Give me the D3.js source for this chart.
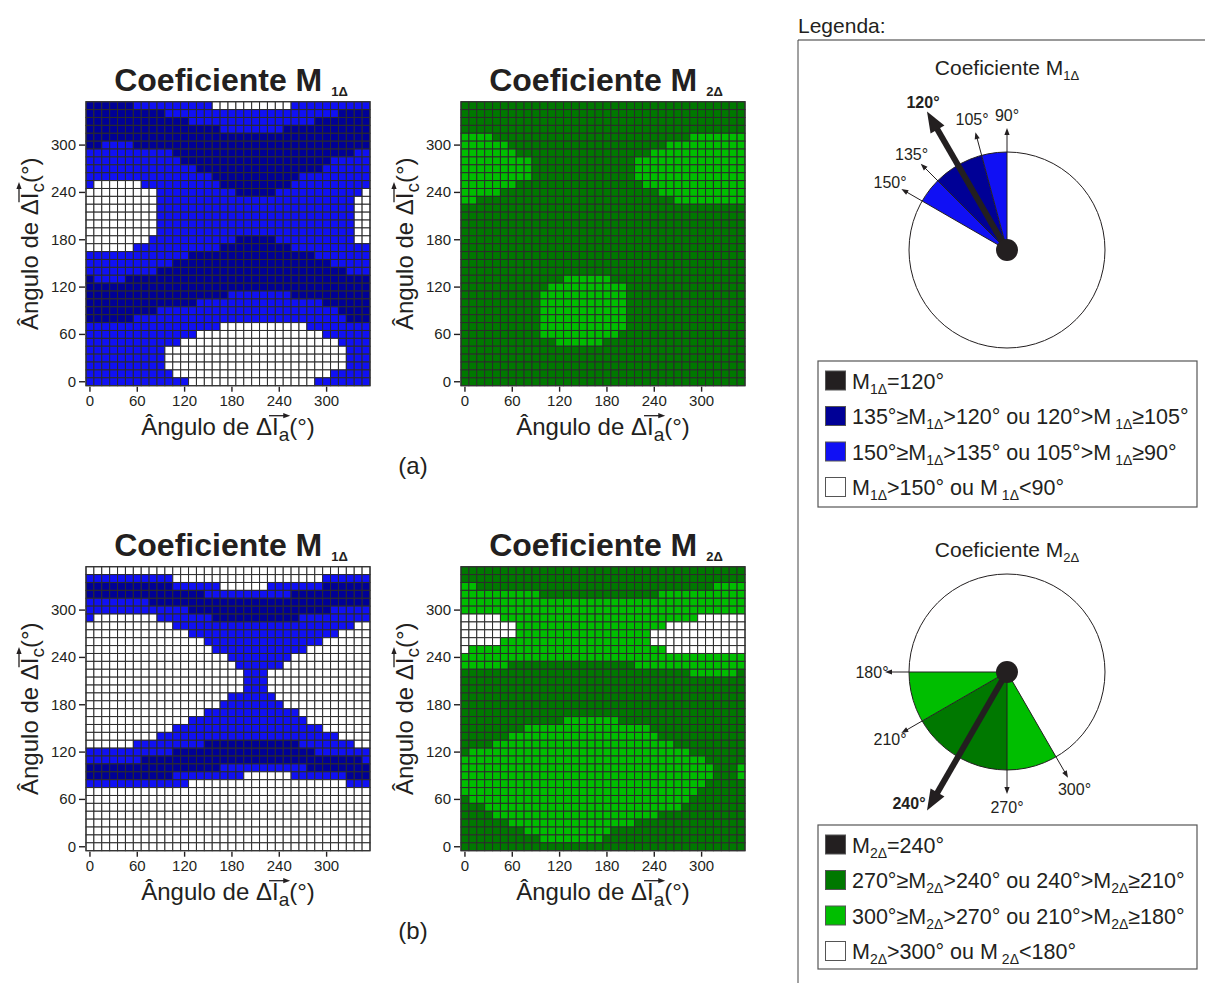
<!DOCTYPE html>
<html>
<head>
<meta charset="utf-8">
<script src="https://cdn.jsdelivr.net/npm/d3@7"></script>
<style>
  body { margin: 0; background: #fff; }
  svg { display: block; }
  text { font-family: "Liberation Sans", Arial, sans-serif; fill: #231f20; }
</style>
</head>
<body>
<svg id="chart" width="1205" height="983"></svg>
<script>
// Angle steps of the grid (degrees) and the ticks shown on both axes.
const angles = [0, 10, 20, 30, 40, 50, 60, 70, 80, 90, 100, 110, 120, 130, 140, 150, 160, 170,
  180, 190, 200, 210, 220, 230, 240, 250, 260, 270, 280, 290, 300, 310, 320, 330, 340, 350];
const tickValues = [0, 60, 120, 180, 240, 300];

// Class of each cell: 0 = outside range (white), 1 = outer band, 2 = inner band, 3 = exact.
// Rows go from the top (350°) to the bottom (0°), written as value*count runs.
const m1aRows = [
  '2*6 1*10 0*10 1*10', '2*10 1*22 2*4', '2*13 1*16 2*7', '2*17 1*8 2*11', '2*36',
  '2*2 1*4 2*30', '1*11 2*23 1*2', '1*12 2*19 1*5', '1*14 2*16 1*6', '1*16 2*11 1*9',
  '1*1 0*6 1*10 2*9 1*10', '0*9 1*10 2*5 1*11 0*1', '0*9 1*25 0*2', '0*9 1*25 0*2',
  '0*9 1*25 0*2', '0*9 1*25 0*2', '0*9 1*25 0*2', '0*8 1*11 2*5 1*10 0*2',
  '0*6 1*11 2*9 1*10', '1*13 2*16 1*7', '1*11 2*20 1*5', '1*9 2*24 1*3', '2*1 1*4 2*31',
  '2*36', '2*18 1*8 2*10', '2*14 1*16 2*6', '2*9 1*23 2*4', '2*6 1*27 2*3',
  '1*17 0*11 1*8', '1*14 0*16 1*6', '1*12 0*20 1*4', '1*10 0*23 1*3', '1*10 0*23 1*3',
  '1*10 0*23 1*3', '1*11 0*20 1*5', '1*13 0*16 1*7'
];
const m2aRows = [
  '2*36', '2*36', '2*36', '2*36', '1*4 2*25 1*7', '1*6 2*20 1*10', '1*7 2*17 1*12',
  '1*9 2*13 1*14', '1*9 2*13 1*14', '1*9 2*13 1*14', '1*7 2*16 1*13', '1*5 2*20 1*11',
  '1*2 2*25 1*9', '2*36', '2*36', '2*36', '2*36', '2*36', '2*36', '2*36', '2*36', '2*36',
  '2*13 1*6 2*17', '2*11 1*10 2*15', '2*10 1*11 2*15', '2*10 1*11 2*15', '2*10 1*11 2*15',
  '2*10 1*11 2*15', '2*10 1*11 2*15', '2*10 1*10 2*16', '2*12 1*6 2*18',
  '2*36', '2*36', '2*36', '2*36', '2*36'
];
const m1bRows = [
  '0*36', '1*11 0*19 1*6', '2*11 1*6 0*6 1*7 2*6', '2*15 1*11 2*10', '1*8 2*28',
  '1*13 2*18 1*5', '1*1 0*8 1*7 2*11 1*9', '0*11 1*23 0*2', '0*13 1*19 0*4',
  '0*15 1*15 0*6', '0*16 1*12 0*8', '0*18 1*8 0*10', '0*19 1*6 0*11', '0*20 1*3 0*13',
  '0*20 1*3 0*13', '0*20 1*3 0*13', '0*18 1*6 0*12', '0*17 1*8 0*11', '0*15 1*12 0*9',
  '0*13 1*15 0*8', '0*11 1*19 0*6', '0*9 1*23 0*4', '0*6 1*9 2*12 1*7 0*2',
  '1*11 2*18 1*7', '1*7 2*28 1*1', '2*17 1*11 2*8', '2*11 1*9 0*6 1*7 2*3',
  '1*13 0*20 1*3', '0*36', '0*36', '0*36', '0*36', '0*36', '0*36', '0*36', '0*36'
];
const m2bRows = [
  '2*36', '2*36', '1*2 2*30 1*4', '1*10 2*15 1*11', '1*36', '1*36', '0*5 1*25 0*6',
  '0*7 1*19 0*10', '0*7 1*17 0*12', '0*5 1*19 0*12', '0*1 1*25 0*10', '1*36',
  '1*6 2*16 1*14', '2*29 1*6 2*1', '2*36', '2*36', '2*36', '2*36', '2*36',
  '2*13 1*7 2*16', '2*8 1*16 2*12', '2*6 1*19 2*11', '2*4 1*23 2*9', '2*1 1*28 2*7',
  '1*31 2*5', '1*32 2*3 1*1', '1*32 2*3 1*1', '1*31 2*5', '1*30 2*6', '2*1 1*28 2*7',
  '2*3 1*25 2*8', '2*4 1*21 2*11', '2*6 1*16 2*14', '2*8 1*11 2*17', '2*10 1*8 2*18', '2*36'
];

// Legend contents ("_{..}" = subscript, "~" = small gap before it).
const legend1Entries = ['M_{1Δ}=120°', '135°≥M_{1Δ}>120° ou 120°>M~_{1Δ}≥105°',
  '150°≥M_{1Δ}>135° ou 105°>M~_{1Δ}≥90°', 'M_{1Δ}>150° ou M~_{1Δ}<90°'];
const legend2Entries = ['M_{2Δ}=240°', '270°≥M_{2Δ}>240° ou 240°>M_{2Δ}≥210°',
  '300°≥M_{2Δ}>270° ou 210°>M_{2Δ}≥180°', 'M_{2Δ}>300° ou M~_{2Δ}<180°'];
const legendClasses = [3, 2, 1, 0];
const polar1Wedges = [{ from: 90, to: 105, cls: 1 }, { from: 105, to: 135, cls: 2 }, { from: 135, to: 150, cls: 1 }];
const polar2Wedges = [{ from: 180, to: 210, cls: 1 }, { from: 210, to: 270, cls: 2 }, { from: 270, to: 300, cls: 1 }];
const polar1Ticks = [90, 105, 135, 150];
const polar2Ticks = [180, 210, 270, 300];

const blueColors = ['#ffffff', '#1010f4', '#000096', '#231f20'];
const greenColors = ['#ffffff', '#00be00', '#007800', '#231f20'];
const ink = '#231f20';
const gridSize = 284;

const svg = d3.select('#chart');

function expandRow(code) {
  return code.split(' ').flatMap(run => {
    const [v, n] = run.split('*').map(Number);
    return Array(n).fill(v);
  });
}

// Text with "_{..}" parts drawn as subscripts.
function richText(sel, str, subSize, subShift) {
  const parts = str.split(/(~?_\{[^}]*\})/).filter(s => s.length);
  let shifted = false;
  parts.forEach(part => {
    const gap = part.startsWith('~');
    if (gap) part = part.slice(1);
    const isSub = part.startsWith('_{');
    const t = sel.append('tspan').text(isSub ? part.slice(2, -1) : part);
    if (isSub) {
      t.attr('font-size', subSize).attr('dy', subShift);
      if (gap) t.attr('dx', 4);
      shifted = true;
    } else if (shifted) {
      t.attr('dy', -subShift);
      shifted = false;
    }
  });
  return sel;
}

// "Ângulo de ΔI(°)" with a vector arrow over the I and a subscript.
function angleTitle(g, sub) {
  const text = g.append('text')
    .attr('text-anchor', 'middle')
    .attr('font-size', 24);
  text.append('tspan').text('Ângulo de Δ');
  text.append('tspan').text('I');
  text.append('tspan').text(sub).attr('font-size', 19).attr('dy', 6);
  text.append('tspan').text('(°)').attr('dy', -6);
  const node = text.node();
  const iIndex = 'Ângulo de Δ'.length;
  const x0 = node.getStartPositionOfChar(iIndex).x - 3;
  const x1 = node.getEndPositionOfChar(iIndex + 1).x + 1;
  const ay = -19;
  g.append('line')
    .attr('x1', x0).attr('x2', x1 - 5)
    .attr('y1', ay).attr('y2', ay)
    .attr('stroke', ink).attr('stroke-width', 1.3);
  g.append('path')
    .attr('d', `M${x1},${ay} L${x1 - 7},${ay - 2.6} L${x1 - 7},${ay + 2.6} Z`)
    .attr('fill', ink);
}

function drawPanel(p) {
  const g = svg.append('g').attr('transform', `translate(${p.left},${p.top})`);
  const x = d3.scaleBand().domain(angles).range([0, gridSize]);
  const y = d3.scaleBand().domain(angles.slice().reverse()).range([0, gridSize]);
  const color = d3.scaleOrdinal().domain([0, 1, 2, 3]).range(p.colors);
  const yDesc = angles.slice().reverse();

  const cells = p.rows.flatMap((code, r) =>
    expandRow(code).map((v, c) => ({ a: angles[c], b: yDesc[r], v })));

  g.append('g')
    .selectAll('rect')
    .data(cells)
    .join('rect')
    .attr('x', d => x(d.a))
    .attr('y', d => y(d.b))
    .attr('width', x.bandwidth())
    .attr('height', y.bandwidth())
    .attr('fill', d => color(d.v))
    .attr('stroke', '#2b2b2b')
    .attr('stroke-width', 1);

  g.append('rect')
    .attr('width', gridSize).attr('height', gridSize)
    .attr('fill', 'none').attr('stroke', '#333').attr('stroke-width', 1.2);

  const xAxis = g.append('g')
    .attr('transform', `translate(0,${gridSize + 1})`)
    .call(d3.axisBottom(x).tickValues(tickValues).tickSize(5).tickPadding(4));
  const yAxis = g.append('g')
    .attr('transform', 'translate(-1,0)')
    .call(d3.axisLeft(y).tickValues(tickValues).tickSize(6).tickPadding(3));
  [xAxis, yAxis].forEach(ax => {
    ax.select('.domain').remove();
    ax.attr('font-family', null).attr('font-size', 15);
    ax.selectAll('line').attr('stroke', ink).attr('stroke-width', 1.4);
    ax.selectAll('text').attr('fill', ink);
  });

  // Title
  const title = g.append('text')
    .attr('x', gridSize / 2 + 3)
    .attr('y', -11)
    .attr('text-anchor', 'middle')
    .attr('font-weight', 'bold')
    .attr('font-size', 32);
  title.append('tspan').text('Coeficiente M');
  title.append('tspan').text(p.sub).attr('font-size', 13).attr('dx', 9).attr('dy', 5);

  angleTitle(g.append('g').attr('transform', `translate(${gridSize / 2},${gridSize + 49})`), 'a');
  angleTitle(g.append('g').attr('transform', `translate(-48,${gridSize / 2}) rotate(-90)`), 'c');
}

const panels = [
  { rows: m1aRows, colors: blueColors, left: 86, top: 101.7, sub: '1Δ' },
  { rows: m2aRows, colors: greenColors, left: 461, top: 101.7, sub: '2Δ' },
  { rows: m1bRows, colors: blueColors, left: 86, top: 566.7, sub: '1Δ' },
  { rows: m2bRows, colors: greenColors, left: 461, top: 566.7, sub: '2Δ' }
];
panels.forEach(drawPanel);

svg.append('text').attr('x', 413).attr('y', 474).attr('text-anchor', 'middle').attr('font-size', 24).text('(a)');
svg.append('text').attr('x', 413).attr('y', 939).attr('text-anchor', 'middle').attr('font-size', 24).text('(b)');

// ---- Legend column ----
svg.append('text').attr('x', 798).attr('y', 33).attr('font-size', 21).text('Legenda:');
svg.append('line').attr('x1', 798).attr('x2', 1205).attr('y1', 40).attr('y2', 40)
  .attr('stroke', '#777').attr('stroke-width', 1.6);
svg.append('line').attr('x1', 798).attr('x2', 798).attr('y1', 40).attr('y2', 983)
  .attr('stroke', '#444').attr('stroke-width', 1);

function polar(cfg) {
  const g = svg.append('g').attr('transform', `translate(${cfg.cx},${cfg.cy})`);
  const r = 98;
  const pt = (deg, rad) => [rad * Math.cos(deg * Math.PI / 180), -rad * Math.sin(deg * Math.PI / 180)];
  const arc = d3.arc().innerRadius(0).outerRadius(r);

  richText(svg.append('text')
    .attr('x', cfg.cx).attr('y', cfg.titleY)
    .attr('text-anchor', 'middle').attr('font-size', 21), cfg.title, 13, 5);

  g.append('circle').attr('r', r).attr('fill', '#fff');
  g.selectAll('path.wedge')
    .data(cfg.wedges)
    .join('path')
    .attr('class', 'wedge')
    .attr('d', d => arc({ startAngle: (90 - d.to) * Math.PI / 180, endAngle: (90 - d.from) * Math.PI / 180 }))
    .attr('fill', d => cfg.colors[d.cls]);
  g.append('circle').attr('r', r).attr('fill', 'none').attr('stroke', ink).attr('stroke-width', 1);

  cfg.ticks.forEach(deg => {
    const [ex, ey] = pt(deg, 116);
    const [tx, ty] = pt(deg, 122);
    const [lx, ly] = pt(deg, 135);
    g.append('line').attr('x1', 0).attr('y1', 0).attr('x2', ex).attr('y2', ey)
      .attr('stroke', ink).attr('stroke-width', 1);
    g.append('path')
      .attr('d', 'M0,0 L-7,-2.6 L-7,2.6 Z')
      .attr('transform', `translate(${tx},${ty}) rotate(${-deg})`)
      .attr('fill', ink);
    g.append('text').attr('x', lx).attr('y', ly).attr('dy', '0.36em')
      .attr('text-anchor', 'middle').attr('font-size', 16).text(deg + '°');
  });

  const [mx, my] = pt(cfg.main, 142);
  const [hx, hy] = pt(cfg.main, 160);
  g.append('line').attr('x1', 0).attr('y1', 0).attr('x2', mx).attr('y2', my)
    .attr('stroke', ink).attr('stroke-width', 6);
  g.append('path')
    .attr('d', 'M0,0 L-21,-8 L-21,8 Z')
    .attr('transform', `translate(${hx},${hy}) rotate(${-cfg.main})`)
    .attr('fill', ink);
  g.append('circle').attr('r', 11).attr('fill', ink);
  const [bx, by] = pt(cfg.main, 168);
  g.append('text').attr('x', bx + cfg.labelShift[0]).attr('y', by + cfg.labelShift[1]).attr('dy', '0.36em')
    .attr('text-anchor', 'middle').attr('font-size', 16).attr('font-weight', 'bold')
    .text(cfg.main + '°');
}

polar({ cx: 1007, cy: 250, titleY: 75, title: 'Coeficiente M_{1Δ}', wedges: polar1Wedges,
  ticks: polar1Ticks, main: 120, colors: blueColors, labelShift: [0, -2] });
polar({ cx: 1007, cy: 672, titleY: 557, title: 'Coeficiente M_{2Δ}', wedges: polar2Wedges,
  ticks: polar2Ticks, main: 240, colors: greenColors, labelShift: [-14, -14] });

function legendBox(entries, colors, top, height) {
  const g = svg.append('g');
  g.append('rect').attr('x', 818).attr('y', top).attr('width', 379).attr('height', height)
    .attr('fill', '#fff').attr('stroke', '#555').attr('stroke-width', 1.2);
  const yPos = d3.scalePoint().domain(d3.range(entries.length)).range([top + 19.5, top + 19.5 + 35.5 * 3]);
  entries.forEach((str, i) => {
    const cy = yPos(i);
    g.append('rect').attr('x', 825.5).attr('y', cy - 9.5).attr('width', 20).attr('height', 19)
      .attr('fill', colors[legendClasses[i]]).attr('stroke', '#555').attr('stroke-width', 1);
    richText(g.append('text').attr('x', 852).attr('y', cy + 8).attr('font-size', 21.5), str, 14, 5);
  });
}
legendBox(legend1Entries, blueColors, 361, 146);
legendBox(legend2Entries, greenColors, 825, 144);
</script>
</body>
</html>
